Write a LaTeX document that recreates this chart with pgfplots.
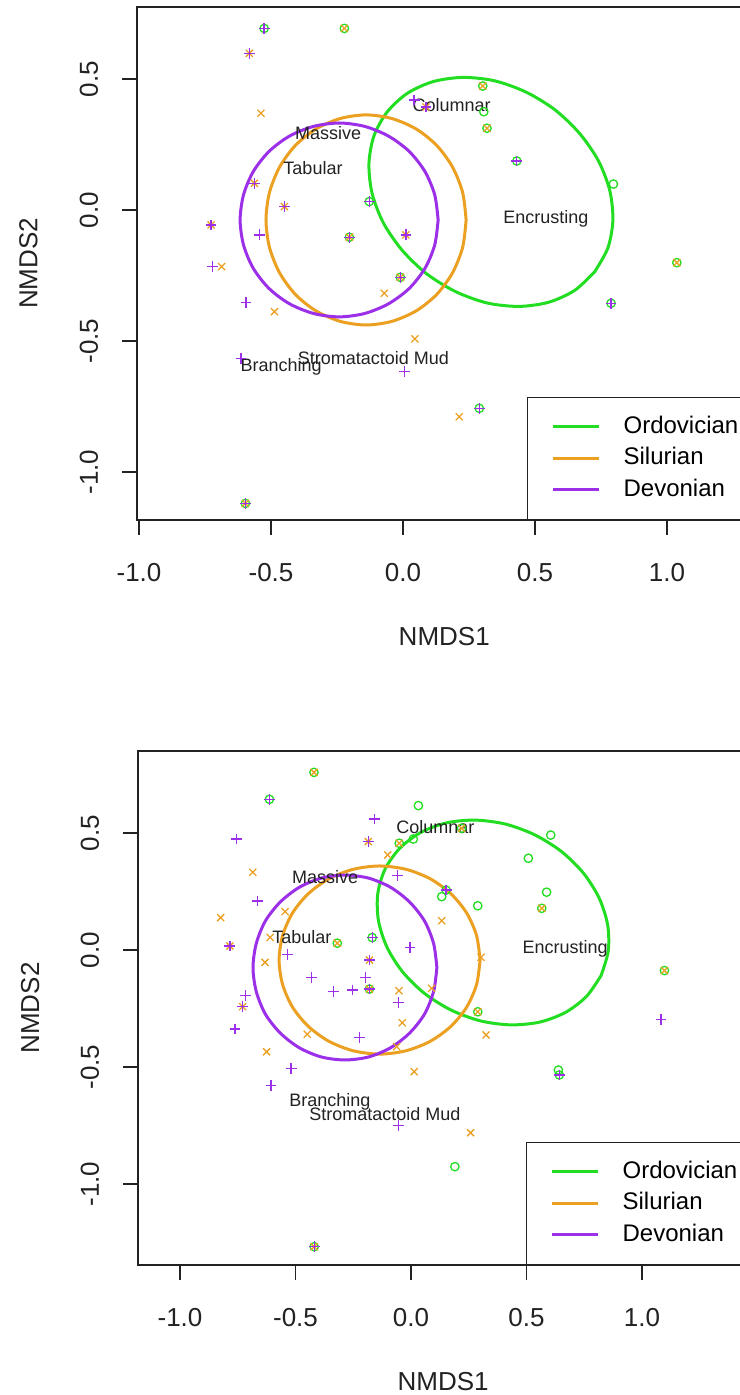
\documentclass[border=0pt]{standalone}
\usepackage{fontspec}
\setmainfont{Liberation Sans}
\usepackage{pgfplots}
\pgfplotsset{compat=1.18}
\definecolor{ordo}{HTML}{22DD22}
\definecolor{silu}{HTML}{EBA021}
\definecolor{devo}{HTML}{9B30E8}
\definecolor{ink}{HTML}{222222}
\tikzset{lab/.style={font=\fontsize{9}{9}\selectfont, text=ink}}
\pgfplotsset{
  nmds/.style={
    axis line style={line width=0.75pt, ink},
    tick style={line width=0.75pt, ink},
    tick align=outside, tick pos=left, major tick length=7.5pt,
    xtick={-1,-0.5,0,0.5,1}, xticklabels={-1.0,-0.5,0.0,0.5,1.0},
    ytick={-1,-0.5,0,0.5}, yticklabels={-1.0,-0.5,0.0,0.5},
    ticklabel style={font=\fontsize{13}{13}\selectfont, text=ink},
    xticklabel style={anchor=center, yshift=-19pt},
    yticklabel style={xshift=-16.5pt, rotate=90, anchor=center},
    label style={font=\fontsize{13}{13}\selectfont, text=ink},
    xlabel={NMDS1}, ylabel={NMDS2},
    xlabel style={at={(axis description cs:0.5,0)}, anchor=center, yshift=-58.5pt},
    ylabel style={at={(axis description cs:-0.1765,0.5)}, anchor=center},
    legend cell align=left,
    ell/.style={line width=1.5pt, line join=round, smooth},
    om/.style={only marks, forget plot, mark=o, mark size=2.1pt, mark options={line width=0.65pt}, color=ordo},
    sm/.style={only marks, forget plot, mark=x, mark size=2.5pt, mark options={line width=0.65pt}, color=silu},
    dm/.style={only marks, forget plot, mark=+, mark size=2.7pt, mark options={line width=0.65pt}, color=devo},
  }
}
\begin{document}
\begin{tikzpicture}
% ---------------- top panel ----------------
\begin{axis}[nmds,
  at={(68.5pt,437.5pt)}, anchor=south west,
  x=132pt, y=131pt,
  xmin=-1.0076, xmax=1.32, ymin=-1.1832, ymax=0.7748,
  legend style={at={(axis cs:0.4697,-1.1832)}, anchor=south west, draw=ink, line width=0.6pt,
    fill=white, inner xsep=12pt, inner ysep=9pt, font=\fontsize{12}{12}\selectfont,
    nodes={inner sep=0pt, text height=9pt, text depth=2.5pt}, row sep=4.25pt,
    /tikz/every odd column/.append style={column sep=11.5pt}},
  legend image code/.code={\draw[#1] (0pt,0pt) -- (23pt,0pt);},
]
\addplot[ell, color=ordo] coordinates {(0.726,-0.236) (0.776,-0.145) (0.795,-0.039) (0.783,0.075) (0.740,0.188) (0.669,0.292) (0.576,0.382) (0.466,0.450) (0.347,0.493) (0.227,0.506) (0.114,0.490) (0.016,0.445) (-0.060,0.374) (-0.110,0.283) (-0.129,0.177) (-0.117,0.063) (-0.074,-0.050) (-0.003,-0.154) (0.090,-0.244) (0.200,-0.312) (0.319,-0.355) (0.439,-0.368) (0.552,-0.352) (0.650,-0.307) (0.726,-0.236)};
\addlegendentry{Ordovician}
\addplot[ell, color=silu] coordinates {(0.239,-0.038) (0.226,0.066) (0.188,0.163) (0.128,0.246) (0.050,0.309) (-0.042,0.349) (-0.140,0.363) (-0.238,0.349) (-0.330,0.309) (-0.408,0.246) (-0.468,0.163) (-0.506,0.066) (-0.519,-0.038) (-0.506,-0.142) (-0.468,-0.239) (-0.408,-0.322) (-0.330,-0.385) (-0.238,-0.425) (-0.140,-0.439) (-0.042,-0.425) (0.050,-0.385) (0.128,-0.322) (0.188,-0.239) (0.226,-0.142) (0.239,-0.038)};
\addlegendentry{Silurian}
\addplot[ell, color=devo] coordinates {(0.133,-0.038) (0.120,0.058) (0.083,0.147) (0.023,0.224) (-0.055,0.282) (-0.145,0.319) (-0.242,0.332) (-0.339,0.319) (-0.430,0.282) (-0.507,0.224) (-0.567,0.147) (-0.604,0.058) (-0.617,-0.038) (-0.604,-0.134) (-0.567,-0.223) (-0.507,-0.300) (-0.430,-0.358) (-0.339,-0.395) (-0.242,-0.408) (-0.145,-0.395) (-0.055,-0.358) (0.023,-0.300) (0.083,-0.223) (0.120,-0.134) (0.133,-0.038)};
\addlegendentry{Devonian}
% Ordovician sites
\addplot[om] coordinates {(-0.526,0.693) (-0.222,0.693) (0.302,0.473) (0.306,0.375) (0.318,0.312) (0.431,0.187) (0.797,0.099) (1.037,-0.201) (-0.128,0.032) (-0.203,-0.104) (-0.010,-0.257) (0.788,-0.356) (0.289,-0.757) (-0.597,-1.120)};
% Silurian sites
\addplot[sm] coordinates {(-0.222,0.693) (-0.582,0.598) (-0.538,0.369) (0.087,0.393) (-0.563,0.102) (-0.449,0.013) (-0.727,-0.057) (-0.203,-0.104) (0.011,-0.095) (-0.687,-0.216) (-0.010,-0.257) (-0.487,-0.388) (-0.071,-0.318) (0.045,-0.492) (0.213,-0.789) (0.302,0.473) (0.318,0.312) (1.037,-0.201) (-0.597,-1.120)};
% Devonian sites
\addplot[dm] coordinates {(-0.526,0.693) (-0.582,0.598) (0.042,0.420) (0.087,0.393) (-0.563,0.102) (-0.449,0.013) (-0.128,0.032) (-0.727,-0.057) (-0.544,-0.095) (-0.203,-0.104) (0.011,-0.095) (-0.721,-0.216) (-0.010,-0.257) (-0.595,-0.352) (-0.614,-0.566) (0.005,-0.617) (0.431,0.187) (0.788,-0.356) (0.289,-0.757) (-0.597,-1.120)};
\node[lab] at (axis cs:0.184,0.401) {Columnar};
\node[lab] at (axis cs:-0.284,0.294) {Massive};
\node[lab] at (axis cs:-0.341,0.160) {Tabular};
\node[lab] at (axis cs:0.541,-0.034) {Encrusting};
\node[lab] at (axis cs:-0.462,-0.599) {Branching};
\node[lab] at (axis cs:-0.112,-0.565) {Stromatactoid Mud};
\end{axis}
% ---------------- bottom panel ----------------
\begin{axis}[nmds,
  at={(69pt,65pt)}, anchor=south west,
  x=115.5pt, y=117pt,
  xmin=-1.1818, xmax=1.46, ymin=-1.3462, ymax=0.8504,
  legend style={at={(axis cs:0.4978,-1.3462)}, anchor=south west, draw=ink, line width=0.6pt,
    fill=white, inner xsep=12pt, inner ysep=9pt, font=\fontsize{12}{12}\selectfont,
    nodes={inner sep=0pt, text height=9pt, text depth=2.5pt}, row sep=4.25pt,
    /tikz/every odd column/.append style={column sep=11.5pt}},
  legend image code/.code={\draw[#1] (0pt,0pt) -- (23pt,0pt);},
]
\addplot[ell, color=ordo] coordinates {(0.823,-0.109) (0.854,-0.004) (0.851,0.109) (0.814,0.223) (0.746,0.329) (0.651,0.421) (0.536,0.492) (0.409,0.538) (0.278,0.555) (0.152,0.543) (0.040,0.501) (-0.050,0.433) (-0.113,0.344) (-0.144,0.239) (-0.141,0.126) (-0.104,0.012) (-0.036,-0.094) (0.059,-0.186) (0.174,-0.257) (0.301,-0.303) (0.432,-0.320) (0.558,-0.308) (0.670,-0.266) (0.760,-0.198) (0.823,-0.109)};
\addlegendentry{Ordovician}
\addplot[ell, color=silu] coordinates {(0.299,-0.043) (0.284,0.061) (0.241,0.158) (0.172,0.241) (0.082,0.305) (-0.023,0.345) (-0.136,0.359) (-0.249,0.345) (-0.354,0.305) (-0.444,0.241) (-0.513,0.158) (-0.556,0.061) (-0.571,-0.043) (-0.556,-0.147) (-0.513,-0.244) (-0.444,-0.327) (-0.354,-0.391) (-0.249,-0.431) (-0.136,-0.445) (-0.023,-0.431) (0.082,-0.391) (0.172,-0.327) (0.241,-0.244) (0.284,-0.147) (0.299,-0.043)};
\addlegendentry{Silurian}
\addplot[ell, color=devo] coordinates {(0.112,-0.075) (0.098,0.027) (0.059,0.123) (-0.005,0.204) (-0.087,0.267) (-0.183,0.307) (-0.286,0.320) (-0.389,0.307) (-0.485,0.267) (-0.567,0.204) (-0.631,0.123) (-0.670,0.027) (-0.684,-0.075) (-0.670,-0.177) (-0.631,-0.273) (-0.567,-0.354) (-0.485,-0.417) (-0.389,-0.457) (-0.286,-0.470) (-0.183,-0.457) (-0.087,-0.417) (-0.005,-0.354) (0.059,-0.273) (0.098,-0.177) (0.112,-0.075)};
\addlegendentry{Devonian}
% Ordovician sites
\addplot[om] coordinates {(-0.420,0.759) (-0.613,0.644) (0.032,0.617) (-0.051,0.456) (0.010,0.474) (0.219,0.520) (0.605,0.491) (0.508,0.392) (0.587,0.247) (0.289,0.189) (0.566,0.178) (0.152,0.256) (0.133,0.228) (-0.319,0.029) (-0.168,0.053) (-0.180,-0.167) (1.097,-0.088) (0.289,-0.264) (0.638,-0.513) (0.642,-0.534) (0.190,-0.926) (-0.419,-1.268)};
% Silurian sites
\addplot[sm] coordinates {(-0.420,0.759) (-0.185,0.463) (-0.685,0.332) (-0.051,0.456) (0.219,0.520) (-0.101,0.406) (-0.824,0.138) (-0.545,0.164) (-0.610,0.054) (-0.319,0.029) (-0.784,0.017) (-0.632,-0.053) (-0.180,-0.043) (-0.180,-0.167) (-0.052,-0.174) (0.089,-0.164) (-0.729,-0.242) (-0.449,-0.360) (-0.038,-0.311) (-0.625,-0.435) (-0.062,-0.413) (0.014,-0.520) (0.133,0.125) (0.566,0.178) (0.303,-0.031) (1.097,-0.088) (0.289,-0.264) (0.325,-0.363) (0.258,-0.781) (-0.419,-1.268)};
% Devonian sites
\addplot[dm] coordinates {(-0.755,0.474) (-0.185,0.463) (-0.159,0.560) (-0.665,0.209) (-0.613,0.644) (-0.168,0.053) (-0.784,0.017) (-0.534,-0.018) (-0.180,-0.043) (-0.004,0.011) (-0.430,-0.117) (-0.196,-0.117) (-0.336,-0.178) (-0.254,-0.171) (-0.180,-0.167) (-0.055,-0.224) (-0.716,-0.195) (-0.729,-0.242) (-0.762,-0.338) (-0.224,-0.373) (-0.519,-0.506) (-0.606,-0.580) (-0.055,-0.751) (-0.058,0.318) (0.152,0.256) (1.082,-0.296) (0.642,-0.534) (-0.419,-1.268)};
\node[lab] at (axis cs:0.106,0.526) {Columnar};
\node[lab] at (axis cs:-0.372,0.312) {Massive};
\node[lab] at (axis cs:-0.472,0.056) {Tabular};
\node[lab] at (axis cs:0.667,0.004) {Encrusting};
\node[lab] at (axis cs:-0.351,-0.650) {Branching};
\node[lab] at (axis cs:-0.113,-0.701) {Stromatactoid Mud};
\end{axis}
\pgfresetboundingbox
\path[use as bounding box] (0pt,0pt) rectangle (369.5pt,697.5pt);
\end{tikzpicture}
\end{document}
